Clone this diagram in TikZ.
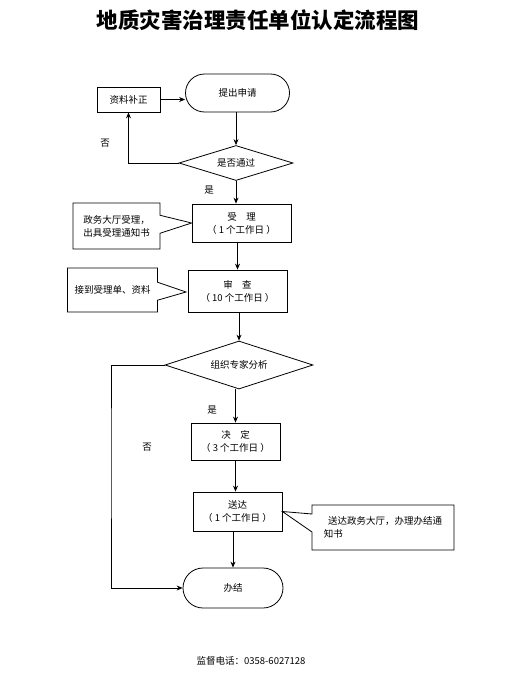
\documentclass[tikz,border=0pt]{standalone}
\usepackage{fontspec}
\setmainfont{Noto Sans CJK SC}
\usetikzlibrary{
  calc,shapes.geometric,shapes.callouts,positioning,
  arrows.meta
}

\begin{document}
\begin{tikzpicture}[x=1pt,y=-1pt,
  every node/.style={font=\fontsize{9.5}{13}\selectfont},
  stepbox/.style={draw,thick,inner sep=0pt,align=center},
  endbox/.style={stepbox,rounded corners=19pt},
  testbox/.style={draw,thick,shape=diamond,inner sep=0pt,align=center},
  notebox/.style={draw,thick,rectangle callout,inner sep=3pt,
    align=left,callout pointer width=18pt},
  flow/.style={thick,-{Stealth[length=6pt,width=5pt]}}
]
\useasboundingbox (0,0) rectangle (516,688);

\node[font=\fontsize{21.5}{24}\selectfont\bfseries] (title) at (258,20)
  {地质灾害治理责任单位认定流程图};

\node[stepbox,minimum width=63pt,minimum height=25pt] (buzheng) at (128.5,99.5) {资料补正};
\node[endbox,minimum width=104pt,minimum height=38pt] (tiqu) at (237.5,93) {提出申请};
\node[testbox,minimum width=114pt,minimum height=35pt,aspect=3.2] (pass) at (236,163) {是否通过};
\node[stepbox,minimum width=99pt,minimum height=38pt] (shouli) at (241.5,223)
  {受\quad 理\\（ 1 个工作日 ）};
\node[stepbox,minimum width=99pt,minimum height=42pt] (shencha) at (237.5,291)
  {审\quad 查\\（ 10 个工作日 ）};
\node[testbox,minimum width=148pt,minimum height=48pt,aspect=3.1] (fenxi) at (239,365) {组织专家分析};
\node[stepbox,minimum width=89pt,minimum height=37pt] (jueding) at (235.5,441.5)
  {决\quad 定\\（ 3 个工作日 ）};
\node[stepbox,minimum width=89pt,minimum height=39pt] (songda) at (237.5,511.5)
  {送达\\（ 1 个工作日 ）};
\node[endbox,rounded corners=20pt,minimum width=100pt,minimum height=40pt] (banjie) at (233,588) {办结};

% notes
\node[notebox,minimum width=87pt,minimum height=46pt,
  callout absolute pointer={(shouli.west)}] (note1) at (116.5,226)
  {政务大厅受理，\\出具受理通知书};
\node[notebox,minimum width=90pt,minimum height=44pt,
  callout absolute pointer={(186,292)}] (note2) at (112.5,290)
  {接到受理单、资料};
\node[notebox,minimum width=142pt,minimum height=45pt,
  callout absolute pointer={(songda.east)}] (note3) at (383,527.5)
  {\ \ 送达政务大厅，办理办结通\\知书};

% connectors
\draw[flow] (buzheng.east) -- (buzheng.east -| tiqu.west);
\draw[flow] (pass.north |- tiqu.south) -- (pass.north);
\draw[flow] (pass.west) -| (buzheng.south);
\draw[flow] (pass.south) -- (pass.south |- shouli.north);
\draw[flow] (shencha.north |- shouli.south) -- (shencha.north);
\draw[flow] (fenxi.north |- shencha.south) -- (fenxi.north);
\draw[flow] (jueding.north |- fenxi.south) -- (jueding.north);
\draw[flow] (jueding.south) -- (jueding.south |- songda.north);
\draw[flow] (banjie.north |- songda.south) -- (banjie.north);
\coordinate (nocorner) at (111,450);
\draw[flow] (fenxi.west) -| (nocorner) |- (banjie.west);

\node (no1) at (105,143) {否};
\node (yes1) at (209,190) {是};
\node (yes2) at (212,410) {是};
\node (no2) at (147,447) {否};

\node (phone) at (251,661) {监督电话：0358-6027128};
\end{tikzpicture}
\end{document}
